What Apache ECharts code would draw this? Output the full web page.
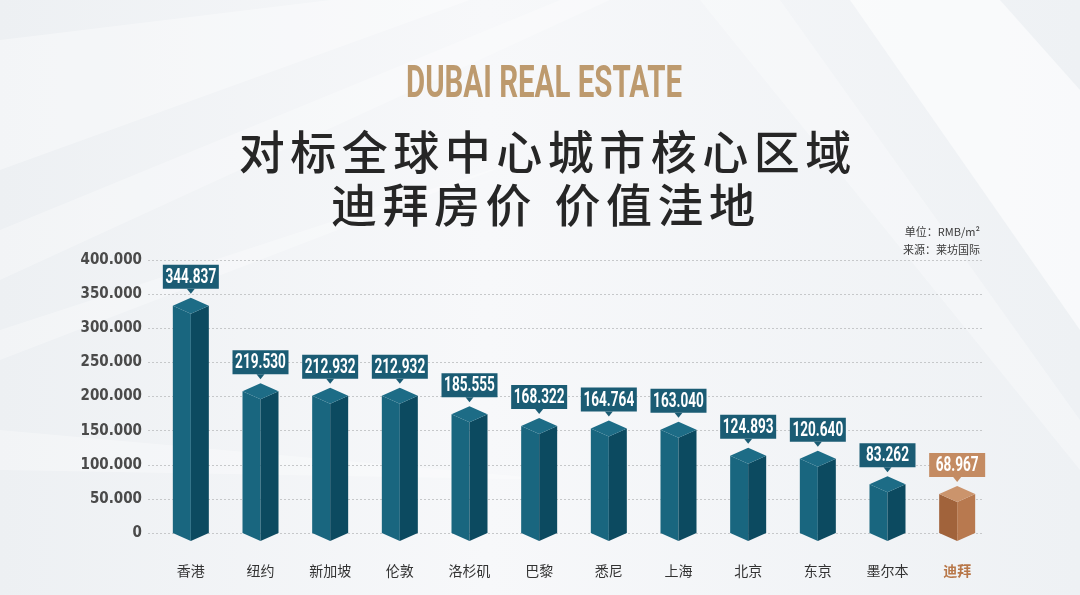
<!DOCTYPE html>
<html>
<head>
<meta charset="utf-8">
<title>迪拜房价 价值洼地</title>
<script src="https://cdn.jsdelivr.net/npm/echarts@6/dist/echarts.min.js"></script>
<style>
html, body { margin: 0; padding: 0; background: #f3f5f7; }
#chart { width: 1080px; height: 595px; }
</style>
</head>
<body>
<div id="chart"></div>
<script>
// 数据 单位 RMB/m2
var cities = ['香港', '纽约', '新加坡', '伦敦', '洛杉矶', '巴黎', '悉尼', '上海', '北京', '东京', '墨尔本', '迪拜'];
var prices = [344837, 219530, 212932, 212932, 185555, 168322, 164764, 163040, 124893, 120640, 83262, 68967];
var yMax = 400000;
var yStep = 50000;
var highlight = '迪拜';

var teal = { left: '#19667f', right: '#0c4a60', top: '#1d6c86', box: '#1b5c74' };
var brown = { left: '#a1633b', right: '#b8794f', top: '#cb946c', box: '#c48b62' };

var chart = echarts.init(document.getElementById('chart'));

function fmt(v) {
    return v === 0 ? '0' : (v / 1000).toFixed(3);
}

/*每个字单独摆放，模拟字间距*/
function spacedLine(str, cx, cy, size, gap) {
    var spaceW = 12;
    var total = 0;
    for (var i = 0; i < str.length; i++) {
        total += (str[i] === ' ' ? spaceW : size) + (i < str.length - 1 ? gap : 0);
    }
    var x = cx - total / 2;
    var out = [];
    for (var j = 0; j < str.length; j++) {
        if (str[j] !== ' ') {
            out.push({
                type: 'text', x: x, y: cy, z: 5,
                style: {
                    text: str[j],
                    font: '500 ' + size + 'px "Noto Sans CJK SC"',
                    fill: '#262626',
                    textAlign: 'left',
                    textVerticalAlign: 'middle'
                }
            });
        }
        x += (str[j] === ' ' ? spaceW : size) + gap;
    }
    return out;
}

function renderBar(params, api) {
    var idx = api.value(0);
    var v = api.value(1);
    var top = api.coord([idx, v]);
    var base = api.coord([idx, 0]);
    var c = cities[idx] === highlight ? brown : teal;
    var cx = top[0], hw = 18, d = 8;
    var yt = top[1], y0 = base[1];
    var bw = 56, bh = 24;
    var boxBottom = yt - 9;
    return {
        type: 'group',
        children: [
            { type: 'polygon', shape: { points: [[cx - hw, yt + d], [cx, yt + 2 * d], [cx, y0 + d], [cx - hw, y0]] }, style: { fill: c.left } },
            { type: 'polygon', shape: { points: [[cx, yt + 2 * d], [cx + hw, yt + d], [cx + hw, y0], [cx, y0 + d]] }, style: { fill: c.right } },
            { type: 'polygon', shape: { points: [[cx, yt], [cx + hw, yt + d], [cx, yt + 2 * d], [cx - hw, yt + d]] }, style: { fill: c.top } },
            { type: 'rect', shape: { x: cx - bw / 2, y: boxBottom - bh, width: bw, height: bh }, style: { fill: c.box } },
            { type: 'polygon', shape: { points: [[cx - 4, boxBottom], [cx + 4, boxBottom], [cx, boxBottom + 5]] }, style: { fill: c.box } },
            {
                type: 'text', x: cx, y: boxBottom - bh / 2 + 1, scaleX: 0.68,
                style: {
                    text: fmt(v),
                    font: 'bold 20px Roboto',
                    fill: '#ffffff',
                    textAlign: 'center',
                    textVerticalAlign: 'middle'
                }
            }
        ]
    };
}

var background = [
    { type: 'polygon', z: -10, shape: { points: [[0, 40], [330, 0], [470, 0], [0, 170]] }, style: { fill: 'rgba(255,255,255,0.35)' } },
    { type: 'polygon', z: -10, shape: { points: [[0, 230], [560, 0], [610, 0], [0, 280]] }, style: { fill: 'rgba(255,255,255,0.3)' } },
    { type: 'polygon', z: -10, shape: { points: [[0, 330], [520, 160], [0, 360]] }, style: { fill: 'rgba(255,255,255,0.3)' } },
    { type: 'polygon', z: -10, shape: { points: [[0, 430], [560, 480], [0, 470]] }, style: { fill: 'rgba(255,255,255,0.3)' } },
    { type: 'polygon', z: -10, shape: { points: [[850, 0], [1000, 0], [1080, 90], [1080, 330]] }, style: { fill: 'rgba(255,255,255,0.6)' } },
    { type: 'polygon', z: -10, shape: { points: [[700, 0], [780, 0], [1080, 420], [1080, 470]] }, style: { fill: 'rgba(255,255,255,0.3)' } }
];

var titles = [
    {
        type: 'text', x: 544, y: 86, z: 5, scaleX: 0.67,
        style: {
            text: 'DUBAI REAL ESTATE',
            font: 'bold 44px Roboto',
            fill: '#bd9a6e',
            textAlign: 'center',
            textVerticalAlign: 'middle'
        }
    },
    {
        type: 'text', x: 980, y: 232, z: 5,
        style: { text: '单位：RMB/m²', font: '11px "Noto Sans CJK SC"', fill: '#3a3a3a', textAlign: 'right', textVerticalAlign: 'middle' }
    },
    {
        type: 'text', x: 980, y: 250, z: 5,
        style: { text: '来源：莱坊国际', font: '11px "Noto Sans CJK SC"', fill: '#3a3a3a', textAlign: 'right', textVerticalAlign: 'middle' }
    }
];
titles = titles.concat(spacedLine('对标全球中心城市核心区域', 545, 152, 46, 5.5));
titles = titles.concat(spacedLine('迪拜房价 价值洼地', 543, 205, 46, 5.5));

chart.setOption({
    backgroundColor: new echarts.graphic.LinearGradient(0, 0, 1, 0, [
        { offset: 0, color: '#edf0f3' },
        { offset: 0.45, color: '#f7f8fa' },
        { offset: 1, color: '#eef1f4' }
    ]),
    animation: false,
    graphic: background.concat(titles),
    grid: [
        { left: 148, right: 98, top: 260, bottom: 62 },
        { left: 156, right: 88, top: 260, bottom: 62 }
    ],
    xAxis: [
        { type: 'value', gridIndex: 0, show: false, min: 0, max: 1 },
        {
            type: 'category', gridIndex: 1, data: cities,
            axisLine: { show: false },
            axisTick: { show: false },
            axisLabel: {
                interval: 0,
                margin: 31,
                fontSize: 14,
                fontFamily: 'Noto Sans CJK SC',
                color: '#333333',
                formatter: function (v) {
                    return v === highlight ? '{hl|' + v + '}' : v;
                },
                rich: {
                    hl: { color: '#b8784a', fontWeight: 'bold', fontSize: 14, fontFamily: 'Noto Sans CJK SC' }
                }
            }
        }
    ],
    yAxis: [
        {
            type: 'value', gridIndex: 0, min: 0, max: yMax, interval: yStep,
            axisLine: { show: false },
            axisTick: { show: false },
            axisLabel: {
                margin: 6,
                formatter: fmt,
                color: '#4a4a4a',
                fontSize: 15,
                fontWeight: 'bold',
                fontFamily: 'DejaVu Sans Condensed'
            },
            splitLine: { lineStyle: { color: '#c6c8ca', type: [2, 2], width: 1 } }
        },
        { type: 'value', gridIndex: 1, min: 0, max: yMax, show: false }
    ],
    series: [{
        type: 'custom',
        xAxisIndex: 1,
        yAxisIndex: 1,
        z: 3,
        renderItem: renderBar,
        data: prices.map(function (p, i) { return [i, p]; })
    }]
});
</script>
</body>
</html>
